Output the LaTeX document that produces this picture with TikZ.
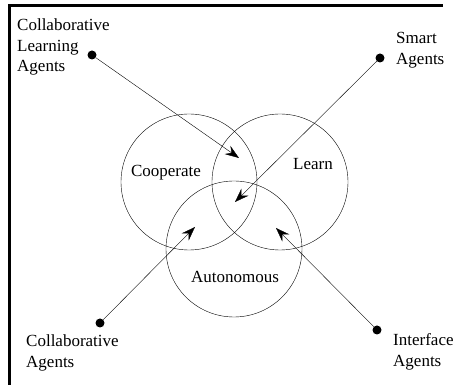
\documentclass[tikz,border=0pt]{standalone}
\usepackage{fontspec}
\setmainfont{Liberation Serif}
\usetikzlibrary{arrows.meta}

\begin{document}
\begin{tikzpicture}[x=1pt, y=-1pt,
    ring/.style={draw, circle, thin, minimum size=136pt, inner sep=0pt},
    dot/.style={fill, circle, minimum size=9pt, inner sep=0pt},
    agent/.style={align=left, inner sep=0pt, anchor=west, font=\fontsize{17}{20.5}\selectfont},
    word/.style={inner sep=0pt, font=\fontsize{17}{20}\selectfont},
    arr/.style={-{Stealth[length=14pt, width=10pt, inset=5pt]}, thin}]
    \useasboundingbox (0,0) rectangle (459,387);

    % Frame
    \draw[line width=2.8pt] (9.5,385) -- (9.5,5.5) -- (443,5.5);

    % Three circles
    \node[ring] (coop) at (189,182) {};
    \node[ring] (learn) at (280,182) {};
    \node[ring] (auton) at (234,249) {};
    \node[word] at (166,173) {Cooperate};
    \node[word] at (313,164) {Learn};
    \node[word] at (235,277) {Autonomous};

    % Agent types
    \node[dot] (cla) at (92,55) {};
    \node[agent] (claText) at (17,47) {Collaborative\\Learning\\Agents};
    \node[dot] (sa) at (380,58) {};
    \node[agent] (saText) at (396,50) {Smart\\Agents};
    \node[dot] (ca) at (100,323) {};
    \node[agent] (caText) at (26,353) {Collaborative\\Agents};
    \node[dot] (ia) at (377,330) {};
    \node[agent] (iaText) at (393,352) {Interface\\Agents};

    % Arrows
    \coordinate (claTip) at (239,158);
    \coordinate (saTip) at (235,202);
    \coordinate (caTip) at (195,227);
    \coordinate (iaTip) at (276,228);
    \draw[arr] (cla) -- (claTip);
    \draw[arr] (sa) -- (saTip);
    \draw[arr] (ca) -- (caTip);
    \draw[arr] (ia) -- (iaTip);
\end{tikzpicture}
\end{document}
